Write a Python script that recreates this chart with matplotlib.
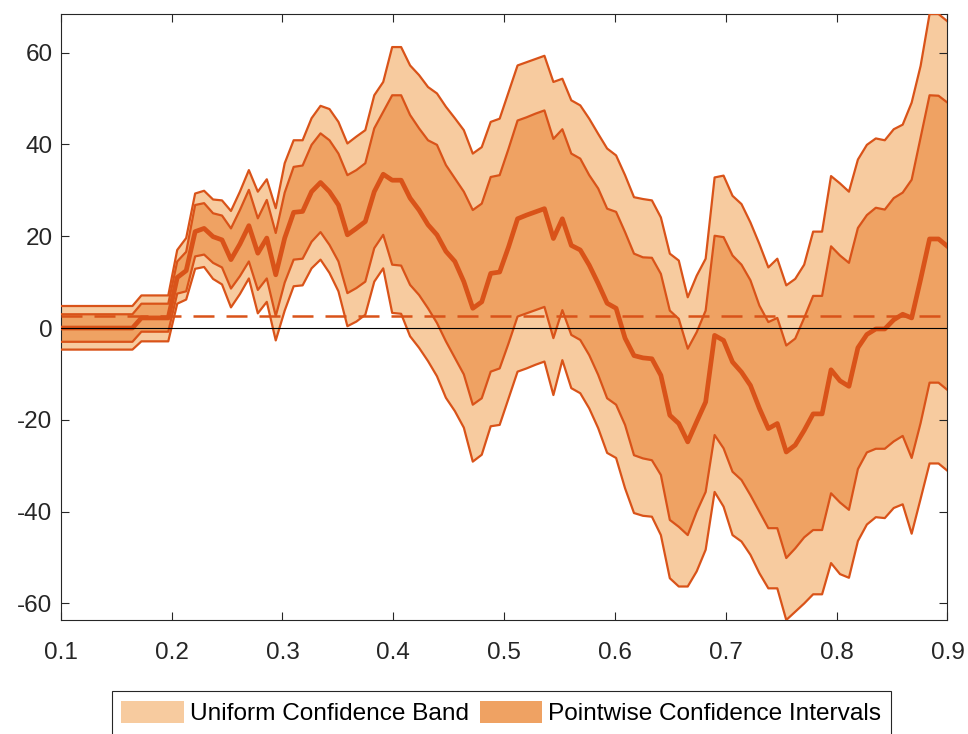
import numpy as np
import matplotlib
matplotlib.use('Agg')
import matplotlib.pyplot as plt
from matplotlib.patches import Patch

plt.rcParams['font.family'] = ['Liberation Sans', 'DejaVu Sans']
plt.rcParams['axes.unicode_minus'] = False

# estimation grid
x = np.linspace(0.1, 0.9, 100)

# point estimate (thick line)
center = [0.0, 0.0, 0.0, 0.0, 0.0, 0.0, 0.0, 0.0, 0.0, 2.2,
          2.2, 2.2, 2.2, 11.0, 12.5, 21.0, 21.7, 19.9, 19.2, 14.9,
          18.3, 22.3, 16.3, 19.6, 11.6, 19.6, 25.2, 25.4, 29.7, 31.7,
          29.7, 26.8, 20.3, 21.7, 23.2, 29.7, 33.5, 32.2, 32.2, 28.3,
          25.7, 22.5, 20.3, 16.7, 14.5, 10.1, 4.3, 5.7, 11.9, 12.2,
          17.7, 23.8, 24.6, 25.3, 26.0, 19.5, 23.8, 18.0, 17.0, 13.7,
          9.7, 5.4, 4.3, -2.2, -6.0, -6.5, -6.7, -10.3, -19.0, -20.8,
          -24.8, -20.4, -16.1, -1.6, -2.7, -7.4, -9.6, -12.5, -17.5, -21.9,
          -20.8, -27.0, -25.5, -22.3, -18.7, -18.7, -9.1, -11.5, -12.7, -4.3,
          -1.4, -0.2, -0.2, 1.8, 3.0, 2.2, 10.6, 19.4, 19.4, 17.8]

# pointwise confidence intervals
pw_upper = [3.0, 3.0, 3.0, 3.0, 3.0, 3.0, 3.0, 3.0, 3.0, 5.3,
            5.3, 5.3, 5.3, 14.5, 16.6, 26.8, 27.2, 25.0, 24.5, 21.7,
            25.7, 30.1, 23.9, 27.9, 20.7, 29.5, 35.1, 35.4, 39.9, 42.4,
            40.9, 38.0, 33.3, 34.4, 35.9, 43.5, 47.1, 50.7, 50.7, 46.4,
            43.5, 40.9, 39.9, 35.5, 32.6, 29.7, 25.7, 27.1, 32.9, 33.3,
            39.1, 45.2, 45.9, 46.7, 47.4, 41.2, 43.3, 38.0, 36.9, 33.3,
            30.4, 26.0, 25.3, 20.9, 16.2, 15.4, 15.3, 11.8, 3.8, 2.0,
            -4.5, -0.9, 3.8, 20.1, 19.8, 15.8, 13.8, 10.4, 4.9, 1.3,
            2.2, -3.8, -2.3, 2.2, 7.0, 7.0, 17.8, 15.8, 14.2, 21.8,
            24.6, 26.2, 25.8, 28.3, 29.5, 32.3, 41.5, 50.7, 50.6, 49.1]
pw_lower = [-3.0, -3.0, -3.0, -3.0, -3.0, -3.0, -3.0, -3.0, -3.0, -0.8,
            -0.8, -0.8, -0.8, 7.5, 8.0, 15.6, 16.0, 14.2, 13.2, 8.6,
            11.3, 14.5, 8.3, 10.8, 2.6, 9.9, 14.9, 15.1, 18.8, 20.9,
            18.1, 14.5, 7.6, 8.7, 10.1, 17.4, 20.3, 13.8, 13.6, 9.4,
            7.2, 4.3, 1.1, -2.9, -6.5, -10.1, -16.7, -15.3, -9.5, -8.8,
            -3.3, 2.5, 3.2, 3.9, 4.6, -2.2, 3.9, -1.5, -2.6, -5.9,
            -10.2, -15.3, -16.7, -21.1, -27.7, -28.4, -28.8, -32.0, -41.8, -43.3,
            -45.1, -40.0, -35.7, -23.3, -26.2, -31.3, -33.1, -36.4, -40.0, -43.6,
            -43.6, -50.1, -48.0, -45.6, -44.0, -44.0, -36.0, -38.0, -39.6, -30.7,
            -27.1, -26.3, -26.3, -24.7, -23.5, -28.3, -20.7, -11.9, -11.9, -13.5]

# uniform confidence band
uni_upper = [4.8, 4.8, 4.8, 4.8, 4.8, 4.8, 4.8, 4.8, 4.8, 7.1,
             7.1, 7.1, 7.1, 17.0, 19.6, 29.3, 29.9, 28.0, 27.8, 25.5,
             29.7, 34.4, 29.7, 32.4, 26.1, 35.9, 40.9, 40.9, 45.7, 48.4,
             47.7, 44.9, 40.2, 41.7, 43.1, 50.7, 53.6, 61.2, 61.2, 57.2,
             55.1, 52.5, 51.1, 48.2, 45.7, 43.1, 38.0, 39.4, 44.9, 45.6,
             51.4, 57.2, 57.9, 58.6, 59.3, 53.6, 54.3, 49.6, 48.5, 45.6,
             42.3, 39.1, 37.6, 33.3, 28.5, 28.1, 27.8, 24.1, 16.2, 14.7,
             6.7, 11.4, 15.1, 32.8, 33.2, 28.8, 27.0, 23.0, 18.3, 13.2,
             15.1, 9.3, 10.7, 13.8, 21.0, 21.0, 33.1, 31.5, 29.7, 36.7,
             39.9, 41.3, 40.9, 43.3, 44.3, 49.1, 57.1, 68.4, 68.4, 66.8]
uni_lower = [-4.7, -4.7, -4.7, -4.7, -4.7, -4.7, -4.7, -4.7, -4.7, -2.9,
             -2.9, -2.9, -2.9, 5.3, 6.2, 12.9, 13.3, 10.7, 9.5, 4.5,
             7.4, 10.8, 3.2, 5.7, -2.7, 3.8, 9.1, 9.3, 13.0, 14.9,
             12.0, 8.0, 0.4, 1.4, 2.9, 10.1, 13.0, 3.3, 3.1, -1.8,
             -4.3, -7.2, -10.5, -15.2, -18.1, -21.7, -29.1, -27.6, -21.4, -21.1,
             -15.3, -9.5, -8.8, -8.0, -7.3, -14.6, -7.0, -13.1, -14.2, -17.5,
             -21.8, -27.2, -28.3, -34.9, -40.3, -40.9, -41.1, -45.1, -54.5, -56.3,
             -56.3, -53.0, -48.3, -35.7, -38.9, -45.1, -46.5, -49.4, -53.4, -56.7,
             -56.7, -63.6, -61.8, -60.0, -58.0, -58.0, -51.2, -53.6, -54.4, -46.4,
             -42.8, -41.2, -41.4, -39.2, -38.4, -44.8, -37.2, -29.5, -29.5, -31.1]

# horizontal reference (dashed)
ref_level = 2.6

LINE = '#D95319'
LIGHT = '#F7CB9F'
DARK = '#EFA263'
AXC = '#262626'

fig = plt.figure(figsize=(9.68, 7.34), dpi=100)
ax = fig.add_axes([0.0628, 0.1553, 0.916, 0.8256])

ax.fill_between(x, uni_lower, uni_upper, facecolor=LIGHT, edgecolor='none', zorder=1)
ax.fill_between(x, pw_lower, pw_upper, facecolor=DARK, edgecolor='none', zorder=2)

for band in (uni_upper, uni_lower, pw_upper, pw_lower):
    ax.plot(x, band, color=LINE, lw=1.6, zorder=3)
ax.plot(x, center, color=LINE, lw=3.4, zorder=4, solid_joinstyle='round')
ax.plot([x[0], x[-1]], [ref_level, ref_level], color=LINE, lw=1.8,
        linestyle=(0, (8.4, 4.8)), zorder=5)
ax.plot([x[0], x[-1]], [0, 0], color='black', lw=0.8, zorder=6)

ax.set_xlim(0.1, 0.9)
ax.set_ylim(min(uni_lower), max(uni_upper))
ax.set_xticks(np.arange(0.1, 0.91, 0.1))
ax.set_xticklabels(['0.1', '0.2', '0.3', '0.4', '0.5', '0.6', '0.7', '0.8', '0.9'])
ax.set_yticks([-60, -40, -20, 0, 20, 40, 60])

ax.tick_params(direction='in', length=6, width=0.8, colors=AXC,
               labelsize=17.5, top=True, right=True)
ax.tick_params(axis='x', pad=16)
ax.tick_params(axis='y', pad=6)
for sp in ax.spines.values():
    sp.set_color(AXC)
    sp.set_linewidth(0.8)

handles = [Patch(facecolor=LIGHT, edgecolor='none'),
           Patch(facecolor=DARK, edgecolor='none')]
labels = ['Uniform Confidence Band', 'Pointwise Confidence Intervals']
leg = fig.legend(handles, labels, loc='center', bbox_to_anchor=(0.518, 0.0286),
                 ncol=2, fontsize=17.6, frameon=True, fancybox=False,
                 edgecolor=AXC, framealpha=1, handlelength=2.55, handleheight=1.0,
                 handletextpad=0.25, columnspacing=0.45, borderpad=0.4,
                 borderaxespad=0)
leg.get_frame().set_linewidth(0.8)

fig.savefig('out.png', dpi=100)
